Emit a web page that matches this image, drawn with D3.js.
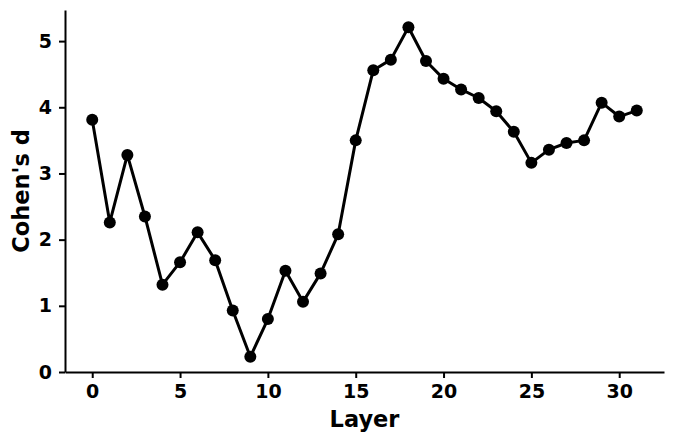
<!DOCTYPE html>
<html>
<head>
<meta charset="utf-8">
<script src="https://cdn.jsdelivr.net/npm/d3@7"></script>
<style>
  body { margin: 0; background: #fff; }
  svg { display: block; }
</style>
</head>
<body>
<div id="chart"></div>
<script>
var width = 675, height = 444,
    margin = {top: 10, left: 65, right: 11, bottom: 72}; // plot box edges

// data
var layers = d3.range(0, 32);
var cohensD = [3.81, 2.26, 3.28, 2.35, 1.32, 1.66, 2.11, 1.69, 0.93, 0.23,
               0.80, 1.53, 1.06, 1.49, 2.08, 3.50, 4.56, 4.72, 5.21, 4.70,
               4.43, 4.27, 4.14, 3.94, 3.63, 3.16, 3.36, 3.46, 3.50, 4.07,
               3.86, 3.95];
var xTicks = [0, 5, 10, 15, 20, 25, 30];
var yTicks = [0, 1, 2, 3, 4, 5];

var data = layers.map((l, i) => ({layer: l, d: cohensD[i]}));

var svg = d3.select('#chart').append('svg')
    .attr('width', width).attr('height', height);

var x = d3.scaleLinear()
    .domain([-1.55, 32.55])
    .range([margin.left, width - margin.right]);

var y = d3.scaleLinear()
    .domain([0, 5.47])
    .range([height - margin.bottom, margin.top]);

var xAxis = d3.axisBottom(x).tickValues(xTicks).tickFormat(d3.format('d'))
    .tickSize(6).tickPadding(7).tickSizeOuter(0);
var yAxis = d3.axisLeft(y).tickValues(yTicks).tickFormat(d3.format('d'))
    .tickSize(6).tickPadding(7).tickSizeOuter(0);

function styleAxis(g) {
  g.attr('font-family', 'DejaVu Sans').attr('font-size', 19).attr('font-weight', 'bold');
  g.selectAll('path, line').attr('stroke', '#000').attr('stroke-width', 2);
  g.selectAll('text').attr('fill', '#000')
    .style('font-family', '"DejaVu Sans", sans-serif')
    .style('font-size', '19px')
    .style('font-weight', 'bold');
}

svg.append('g').attr('class', 'x axis')
    .attr('transform', `translate(0,${height - margin.bottom})`)
    .call(xAxis).call(styleAxis);

svg.append('g').attr('class', 'y axis')
    .attr('transform', `translate(${margin.left},0)`)
    .call(yAxis).call(styleAxis);

var line = d3.line()
    .x(d => x(d.layer))
    .y(d => y(d.d));

svg.append('path')
    .datum(data)
    .attr('fill', 'none')
    .attr('stroke', '#000')
    .attr('stroke-width', 3)
    .attr('stroke-linejoin', 'round')
    .attr('d', line);

svg.selectAll('.pt')
    .data(data)
    .enter().append('circle')
    .attr('class', 'pt')
    .attr('cx', d => x(d.layer))
    .attr('cy', d => y(d.d))
    .attr('r', 6)
    .attr('fill', '#000');

// axis titles
function titleText(t) {
  t.style('font-family', '"DejaVu Sans", sans-serif')
   .style('font-size', '22.5px')
   .style('font-weight', 'bold')
   .attr('fill', '#000')
   .attr('text-anchor', 'middle');
}

svg.append('text')
    .attr('x', (margin.left + width - margin.right) / 2)
    .attr('y', 427)
    .call(titleText)
    .text('Layer');

svg.append('text')
    .attr('transform', `translate(29,${(margin.top + height - margin.bottom) / 2})rotate(-90)`)
    .call(titleText)
    .text("Cohen's d");
</script>
</body>
</html>
